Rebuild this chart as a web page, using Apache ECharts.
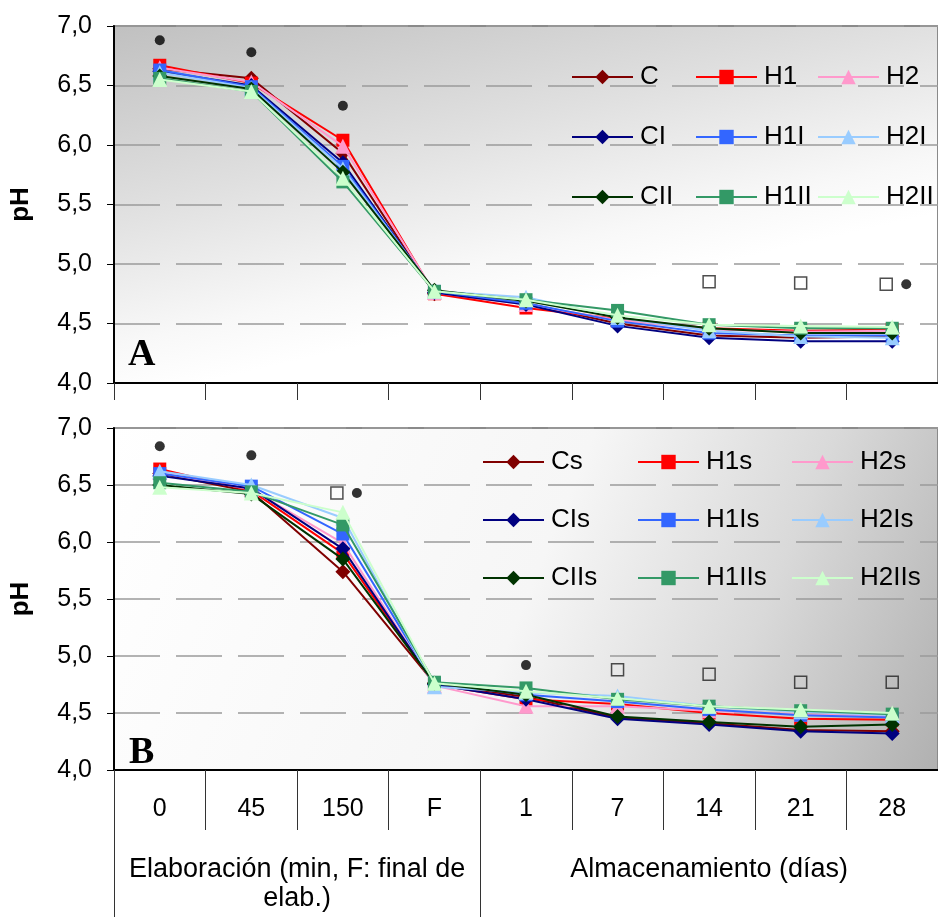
<!DOCTYPE html>
<html>
<head>
<meta charset="utf-8">
<script src="https://cdn.jsdelivr.net/npm/echarts@6/dist/echarts.min.js"></script>
<style>
html,body{margin:0;padding:0;background:#fff;}
#chart{width:938px;height:917px;}
</style>
</head>
<body>
<div id="chart"></div>
<script>
// ---- data ----
const categories = ['0','45','150','F','1','7','14','21','28'];
const groupLabels = ['Elaboración (min, F: final de\nelab.)', 'Almacenamiento (días)'];
const groupCenters = [2, 6.5];
const groupBounds = [0, 4, 9];

const namesA = ['C','H1','H2','CI','H1I','H2I','CII','H1II','H2II'];
const C    = [6.64,6.56,5.93,4.75,4.67,4.50,4.40,4.38,4.39];
const H1   = [6.67,6.52,6.04,4.75,4.63,4.54,4.46,4.44,4.45];
const H2   = [6.65,6.53,5.99,4.76,4.66,4.53,4.45,4.43,4.44];
const CI   = [6.62,6.50,5.85,4.76,4.66,4.48,4.38,4.35,4.35];
const H1I  = [6.63,6.49,5.82,4.77,4.67,4.52,4.42,4.40,4.40];
const H2I  = [6.61,6.48,5.80,4.77,4.72,4.55,4.44,4.39,4.38];
const CII  = [6.58,6.47,5.77,4.78,4.69,4.55,4.46,4.42,4.42];
const H1II = [6.56,6.45,5.69,4.77,4.70,4.61,4.49,4.46,4.46];
const H2II = [6.55,6.45,5.72,4.77,4.70,4.57,4.49,4.48,4.47];

const namesB = ['Cs','H1s','H2s','CIs','H1Is','H2Is','CIIs','H1IIs','H2IIs'];
const Cs    = [6.60,6.44,5.74,4.76,4.64,4.46,4.41,4.35,4.34];
const H1s   = [6.64,6.45,5.90,4.75,4.62,4.58,4.50,4.45,4.44];
const H2s   = [6.61,6.46,5.99,4.74,4.56,4.56,4.52,4.49,4.47];
const CIs   = [6.58,6.47,5.94,4.75,4.62,4.45,4.40,4.34,4.32];
const H1Is  = [6.60,6.49,6.07,4.76,4.66,4.60,4.53,4.48,4.46];
const H2Is  = [6.62,6.50,6.21,4.73,4.68,4.65,4.56,4.51,4.48];
const CIIs  = [6.50,6.42,5.85,4.76,4.66,4.47,4.42,4.38,4.40];
const H1IIs = [6.52,6.44,6.15,4.77,4.72,4.62,4.56,4.52,4.49];
const H2IIs = [6.48,6.43,6.26,4.76,4.69,4.63,4.56,4.53,4.50];

// significance marks (● and □) per category
const dotA = [6.88,6.78,6.33,null,null,null,null,null,4.83];
const sqA  = [null,null,null,null,null,null,4.85,4.84,4.83];
const dotB = [6.84,6.76,6.43,null,4.92,null,null,null,null];
const sqB  = [null,null,6.43,null,null,4.88,4.84,4.77,4.77];

const yMin = 4, yMax = 7, yStep = 0.5;

// ---- styles ----
const colors = ['#800000','#FF0000','#FF99CC','#000080','#3366FF','#99CCFF','#003300','#339966','#CCFFCC'];
const symbols = ['diamond','rect','triangle','diamond','rect','triangle','diamond','rect','triangle'];
const symSizes = [15,13,15,15,13,15,15,13,15];
const FONT = 'Liberation Sans, Arial, sans-serif';

const chart = echarts.init(document.getElementById('chart'));

const gradA = new echarts.graphic.LinearGradient(0,0,0.1,1,[
  {offset:0,color:'#c0c0c0'},{offset:0.5,color:'#e0e0e0'},{offset:0.85,color:'#f8f8f8'},{offset:1,color:'#ffffff'}]);
const gradB = new echarts.graphic.LinearGradient(0,0,1,1,[
  {offset:0,color:'#ffffff'},{offset:0.5,color:'#f6f6f6'},{offset:0.75,color:'#d9d9d9'},{offset:1,color:'#b0b0b0'}]);

function yAxisCfg(gi){
  return {
    type:'value', gridIndex:gi, min:yMin, max:yMax, interval:yStep,
    name:'pH', nameLocation:'middle', nameGap:80, nameRotate:90,
    nameTextStyle:{fontFamily:FONT,fontSize:26,fontWeight:'bold',color:'#000'},
    axisLine:{show:true,lineStyle:{color:'#000',width:2}},
    axisTick:{show:true,length:7,lineStyle:{color:'#000'}},
    axisLabel:{fontFamily:FONT,fontSize:25,color:'#000',margin:22,
      formatter:v=>v.toFixed(1).replace('.',',')},
    splitLine:{show:true,lineStyle:{color:'#9a9a9a',width:1.5,type:[46,16]}}
  };
}

function lineSeries(names, arrays, gi){
  return names.map((n,i)=>({
    name:n, type:'line', xAxisIndex: gi===0?0:1, yAxisIndex:gi,
    data:arrays[i], symbol:symbols[i], symbolSize:symSizes[i], showAllSymbol:true,
    lineStyle:{color:colors[i],width:2}, itemStyle:{color:colors[i]},
    z:3+i, emphasis:{disabled:true}
  }));
}

function marks(dots, sqs, gi){
  const d=[], s=[];
  for(let i=0;i<categories.length;i++){
    const both = dots[i]!=null && sqs[i]!=null;
    if(dots[i]!=null) d.push({value:[i,dots[i]], symbolOffset: both?[14,0]:[0,0]});
    if(sqs[i]!=null) s.push({value:[i,sqs[i]], symbolOffset: both?[-6,0]:[0,0]});
  }
  return [
    {type:'scatter', xAxisIndex: gi===0?0:1, yAxisIndex:gi, data:d, symbol:'circle', symbolSize:10,
      itemStyle:{color:'#000'}, z:20, silent:true},
    {type:'scatter', xAxisIndex: gi===0?0:1, yAxisIndex:gi, data:s, symbol:'rect', symbolSize:12,
      itemStyle:{color:'rgba(255,255,255,0)',borderColor:'#222',borderWidth:1.5}, z:20, silent:true}
  ];
}

function legendCols(names, lefts, top, gap){
  return lefts.map((l,c)=>({
    orient:'vertical', left:l, top:top, itemGap:gap, itemWidth:61, itemHeight:18,
    padding:0, selectedMode:false,
    data:[names[c],names[c+3],names[c+6]],
    textStyle:{fontFamily:FONT,fontSize:26,color:'#000',padding:[0,0,0,2]}
  }));
}

const option = {
  animation:false,
  textStyle:{fontFamily:FONT},
  title:[
    {text:'A',left:128,top:336,padding:0,textStyle:{fontFamily:'Liberation Serif, Times New Roman, serif',fontSize:38,fontWeight:'bold',color:'#000'}},
    {text:'B',left:129,top:734,padding:0,textStyle:{fontFamily:'Liberation Serif, Times New Roman, serif',fontSize:38,fontWeight:'bold',color:'#000'}}
  ],
  legend:[].concat(
    legendCols(namesA,[571,695,817],64,34),
    legendCols(namesB,[482,637,791],449,32)
  ),
  grid:[
    {left:112,top:26,width:826,height:357,show:true,backgroundColor:gradA,borderColor:'#8a8a8a',borderWidth:2},
    {left:112,top:428,width:826,height:342,show:true,backgroundColor:gradB,borderColor:'#8a8a8a',borderWidth:2}
  ],
  xAxis:[
    {type:'category',gridIndex:0,data:categories,boundaryGap:true,
      axisLine:{lineStyle:{color:'#000',width:2}},
      axisTick:{show:true,interval:0,length:17,lineStyle:{color:'#333'}},
      axisLabel:{show:false},splitLine:{show:false}},
    {type:'category',gridIndex:1,data:categories,boundaryGap:true,
      axisLine:{lineStyle:{color:'#000',width:2}},
      axisTick:{show:true,interval:0,length:60,lineStyle:{color:'#333'}},
      axisLabel:{interval:0,fontFamily:FONT,fontSize:25,color:'#000',margin:27},splitLine:{show:false}},
    {type:'value',gridIndex:1,position:'bottom',min:0,max:9,
      axisLine:{show:false},splitLine:{show:false},
      axisTick:{show:true,customValues:groupBounds,length:147,lineStyle:{color:'#333'}},
      axisLabel:{show:true,customValues:groupCenters,fontFamily:FONT,fontSize:27,color:'#000',margin:85,lineHeight:29,
        formatter:v=>groupLabels[groupCenters.indexOf(v)]}}
  ],
  yAxis:[yAxisCfg(0),yAxisCfg(1)],
  series:[].concat(
    lineSeries(namesA,[C,H1,H2,CI,H1I,H2I,CII,H1II,H2II],0),
    marks(dotA,sqA,0),
    lineSeries(namesB,[Cs,H1s,H2s,CIs,H1Is,H2Is,CIIs,H1IIs,H2IIs],1),
    marks(dotB,sqB,1)
  )
};
chart.setOption(option);
</script>
</body>
</html>
